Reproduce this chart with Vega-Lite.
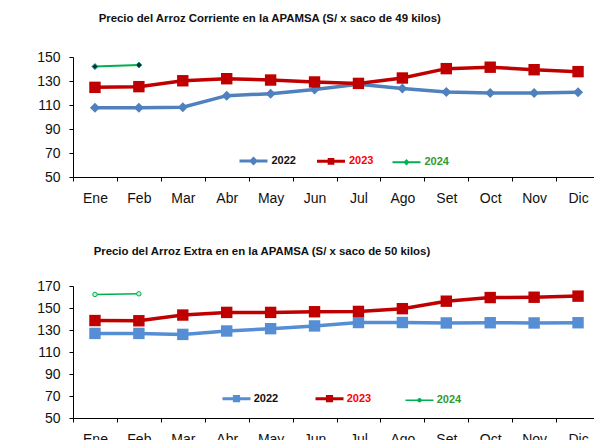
{
  "$schema": "https://vega.github.io/schema/vega-lite/v6.json",
  "padding": {"left": 36, "top": 12, "right": 0, "bottom": 0},
  "config": {
    "font": "Liberation Sans",
    "view": {"stroke": null},
    "axis": {"grid": false, "domainColor": "#000000", "tickColor": "#000000", "labelColor": "#111111", "labelFontSize": 14, "labelFont": "Liberation Sans", "tickSize": 4, "title": null},
    "title": {"font": "Liberation Sans", "fontSize": 11.4, "fontWeight": "bold", "color": "#111111", "anchor": "start"}
  },
  "datasets": {
    "corriente": [
      {"mes": "Ene", "serie": "2022", "precio": 107.8}, {"mes": "Feb", "serie": "2022", "precio": 107.8},
      {"mes": "Mar", "serie": "2022", "precio": 108.1}, {"mes": "Abr", "serie": "2022", "precio": 117.8},
      {"mes": "May", "serie": "2022", "precio": 119.4}, {"mes": "Jun", "serie": "2022", "precio": 123.0},
      {"mes": "Jul", "serie": "2022", "precio": 127.3}, {"mes": "Ago", "serie": "2022", "precio": 123.8},
      {"mes": "Set", "serie": "2022", "precio": 120.8}, {"mes": "Oct", "serie": "2022", "precio": 120.0},
      {"mes": "Nov", "serie": "2022", "precio": 120.0}, {"mes": "Dic", "serie": "2022", "precio": 120.6},
      {"mes": "Ene", "serie": "2023", "precio": 124.7}, {"mes": "Feb", "serie": "2023", "precio": 125.3},
      {"mes": "Mar", "serie": "2023", "precio": 130.2}, {"mes": "Abr", "serie": "2023", "precio": 131.9},
      {"mes": "May", "serie": "2023", "precio": 130.8}, {"mes": "Jun", "serie": "2023", "precio": 129.2},
      {"mes": "Jul", "serie": "2023", "precio": 128.0}, {"mes": "Ago", "serie": "2023", "precio": 132.5},
      {"mes": "Set", "serie": "2023", "precio": 140.3}, {"mes": "Oct", "serie": "2023", "precio": 141.5},
      {"mes": "Nov", "serie": "2023", "precio": 139.4}, {"mes": "Dic", "serie": "2023", "precio": 137.8},
      {"mes": "Ene", "serie": "2024", "precio": 142.0}, {"mes": "Feb", "serie": "2024", "precio": 143.3}
    ],
    "extra": [
      {"mes": "Ene", "serie": "2022", "precio": 126.9}, {"mes": "Feb", "serie": "2022", "precio": 126.9},
      {"mes": "Mar", "serie": "2022", "precio": 126.0}, {"mes": "Abr", "serie": "2022", "precio": 129.1},
      {"mes": "May", "serie": "2022", "precio": 131.2}, {"mes": "Jun", "serie": "2022", "precio": 133.7},
      {"mes": "Jul", "serie": "2022", "precio": 136.8}, {"mes": "Ago", "serie": "2022", "precio": 136.8},
      {"mes": "Set", "serie": "2022", "precio": 136.4}, {"mes": "Oct", "serie": "2022", "precio": 136.6},
      {"mes": "Nov", "serie": "2022", "precio": 136.4}, {"mes": "Dic", "serie": "2022", "precio": 136.6},
      {"mes": "Ene", "serie": "2023", "precio": 138.6}, {"mes": "Feb", "serie": "2023", "precio": 138.4},
      {"mes": "Mar", "serie": "2023", "precio": 143.6}, {"mes": "Abr", "serie": "2023", "precio": 146.0},
      {"mes": "May", "serie": "2023", "precio": 146.0}, {"mes": "Jun", "serie": "2023", "precio": 146.6},
      {"mes": "Jul", "serie": "2023", "precio": 146.9}, {"mes": "Ago", "serie": "2023", "precio": 149.4},
      {"mes": "Set", "serie": "2023", "precio": 156.2}, {"mes": "Oct", "serie": "2023", "precio": 159.5},
      {"mes": "Nov", "serie": "2023", "precio": 159.8}, {"mes": "Dic", "serie": "2023", "precio": 160.8},
      {"mes": "Ene", "serie": "2024", "precio": 162.3}, {"mes": "Feb", "serie": "2024", "precio": 162.9}
    ]
  },
  "spacing": 40,
  "resolve": {
    "scale": {"x": "independent", "y": "independent", "color": "independent"},
    "legend": {"color": "independent"}
  },
  "vconcat": [
    {
      "width": 527,
      "height": 120,
      "title": {"text": "Precio del Arroz Corriente en la APAMSA (S/  x saco de 49 kilos)", "dx": 62, "offset": 26},
      "data": {"name": "corriente"},
      "encoding": {
        "x": {"field": "mes", "type": "nominal", "sort": ["Ene","Feb","Mar","Abr","May","Jun","Jul","Ago","Set","Oct","Nov","Dic"],
              "scale": {"type": "band", "paddingInner": 0, "paddingOuter": 0, "domain": ["Ene","Feb","Mar","Abr","May","Jun","Jul","Ago","Set","Oct","Nov","Dic"]},
              "axis": {"labelAngle": 0, "tickBand": "extent", "labelPadding": 10}},
        "y": {"field": "precio", "type": "quantitative", "scale": {"domain": [50, 150], "nice": false, "zero": false},
              "axis": {"values": [50, 70, 90, 110, 130, 150], "labelPadding": 9}}
      },
      "layer": [
        {
          "transform": [{"filter": "datum.serie != '2024'"}],
          "mark": {"type": "line", "strokeWidth": 3.5},
          "encoding": {
            "color": {"field": "serie", "type": "nominal",
              "scale": {"domain": ["2022", "2023", "2024"], "range": ["#4F81BD", "#C00000", "#00B050"]},
              "legend": {
                "orient": "none", "legendX": 175, "legendY": 98.5, "direction": "horizontal", "columns": 3,
                "title": null, "padding": 0, "symbolSize": 784, "labelFontSize": 11, "labelFontWeight": "bold",
                "labelOffset": 12.5, "columnPadding": 14.5, "symbolOpacity": 1,
                "encode": {
                  "symbols": {"update": {
                    "shape": {"signal": "datum.value == '2022' ? 'M-1,0L1,0M0,-0.17L0.17,0L0,0.17L-0.17,0Z' : datum.value == '2023' ? 'M-1,0L1,0M-0.13,-0.13L0.13,-0.13L0.13,0.13L-0.13,0.13Z' : 'M-1,0L1,0M0,-0.13L0.13,0L0,0.13L-0.13,0Z'"},
                    "fill": {"signal": "datum.value == '2022' ? '#4F81BD' : datum.value == '2023' ? '#C00000' : '#0B2A55'"},
                    "strokeWidth": {"signal": "datum.value == '2024' ? 2 : 3"}
                  }},
                  "labels": {"update": {
                    "fill": {"signal": "datum.value == '2022' ? '#111111' : datum.value == '2023' ? '#FF0000' : '#339933'"}
                  }}
                }
              }}
          }
        },
        {
          "transform": [{"filter": "datum.serie == '2024'"}],
          "mark": {"type": "line", "strokeWidth": 2, "color": "#00B050"},
          "encoding": {}
        },
        {
          "transform": [{"filter": "datum.serie == '2022'"}],
          "mark": {"type": "point", "shape": "diamond", "filled": true, "opacity": 1, "size": 100, "color": "#4F81BD"},
          "encoding": {}
        },
        {
          "transform": [{"filter": "datum.serie == '2023'"}],
          "mark": {"type": "point", "shape": "square", "filled": true, "opacity": 1, "size": 130, "color": "#C00000"},
          "encoding": {}
        },
        {
          "transform": [{"filter": "datum.serie == '2024'"}],
          "mark": {"type": "point", "shape": "diamond", "filled": true, "opacity": 1, "size": 36, "fill": "#0B2A55", "stroke": "#00B050", "strokeWidth": 1},
          "encoding": {}
        }
      ]
    },
    {
      "width": 527,
      "height": 132,
      "title": {"text": "Precio del Arroz Extra en en la APAMSA (S/  x saco de 50 kilos)", "dx": 57, "offset": 22},
      "data": {"name": "extra"},
      "encoding": {
        "x": {"field": "mes", "type": "nominal", "sort": ["Ene","Feb","Mar","Abr","May","Jun","Jul","Ago","Set","Oct","Nov","Dic"],
              "scale": {"type": "band", "paddingInner": 0, "paddingOuter": 0, "domain": ["Ene","Feb","Mar","Abr","May","Jun","Jul","Ago","Set","Oct","Nov","Dic"]},
              "axis": {"labelAngle": 0, "tickBand": "extent", "labelPadding": 10}},
        "y": {"field": "precio", "type": "quantitative", "scale": {"domain": [50, 170], "nice": false, "zero": false},
              "axis": {"values": [50, 70, 90, 110, 130, 150, 170], "labelPadding": 9}}
      },
      "layer": [
        {
          "transform": [{"filter": "datum.serie != '2024'"}],
          "mark": {"type": "line", "strokeWidth": 3.5},
          "encoding": {
            "color": {"field": "serie", "type": "nominal",
              "scale": {"domain": ["2022", "2023", "2024"], "range": ["#558ED5", "#C00000", "#00B050"]},
              "legend": {
                "orient": "none", "legendX": 158, "legendY": 107, "direction": "horizontal", "columns": 3,
                "title": null, "padding": 0, "symbolSize": 784, "labelFontSize": 11, "labelFontWeight": "bold",
                "labelOffset": 11.7, "columnPadding": 30, "symbolOpacity": 1,
                "encode": {
                  "symbols": {"update": {
                    "shape": {"signal": "datum.value == '2024' ? 'M-1,0L1,0M0.11,0A0.11,0.11 0 1,1 -0.11,0A0.11,0.11 0 1,1 0.11,0Z' : 'M-1,0L1,0M-0.15,-0.15L0.15,-0.15L0.15,0.15L-0.15,0.15Z'"},
                    "fill": {"signal": "datum.value == '2022' ? '#558ED5' : datum.value == '2023' ? '#C00000' : '#C8F0D0'"},
                    "strokeWidth": {"signal": "datum.value == '2024' ? 1.5 : 3"}
                  }},
                  "labels": {"update": {
                    "fill": {"signal": "datum.value == '2022' ? '#111111' : datum.value == '2023' ? '#FF0000' : '#339933'"}
                  }}
                }
              }}
          }
        },
        {
          "transform": [{"filter": "datum.serie == '2024'"}],
          "mark": {"type": "line", "strokeWidth": 1.5, "color": "#00B050"},
          "encoding": {}
        },
        {
          "transform": [{"filter": "datum.serie == '2022'"}],
          "mark": {"type": "point", "shape": "square", "filled": true, "opacity": 1, "size": 130, "color": "#558ED5"},
          "encoding": {}
        },
        {
          "transform": [{"filter": "datum.serie == '2023'"}],
          "mark": {"type": "point", "shape": "square", "filled": true, "opacity": 1, "size": 130, "color": "#C00000"},
          "encoding": {}
        },
        {
          "transform": [{"filter": "datum.serie == '2024'"}],
          "mark": {"type": "point", "shape": "circle", "filled": true, "opacity": 1, "size": 20, "fill": "#C8F0D0", "stroke": "#00B050", "strokeWidth": 1},
          "encoding": {}
        }
      ]
    }
  ]
}
